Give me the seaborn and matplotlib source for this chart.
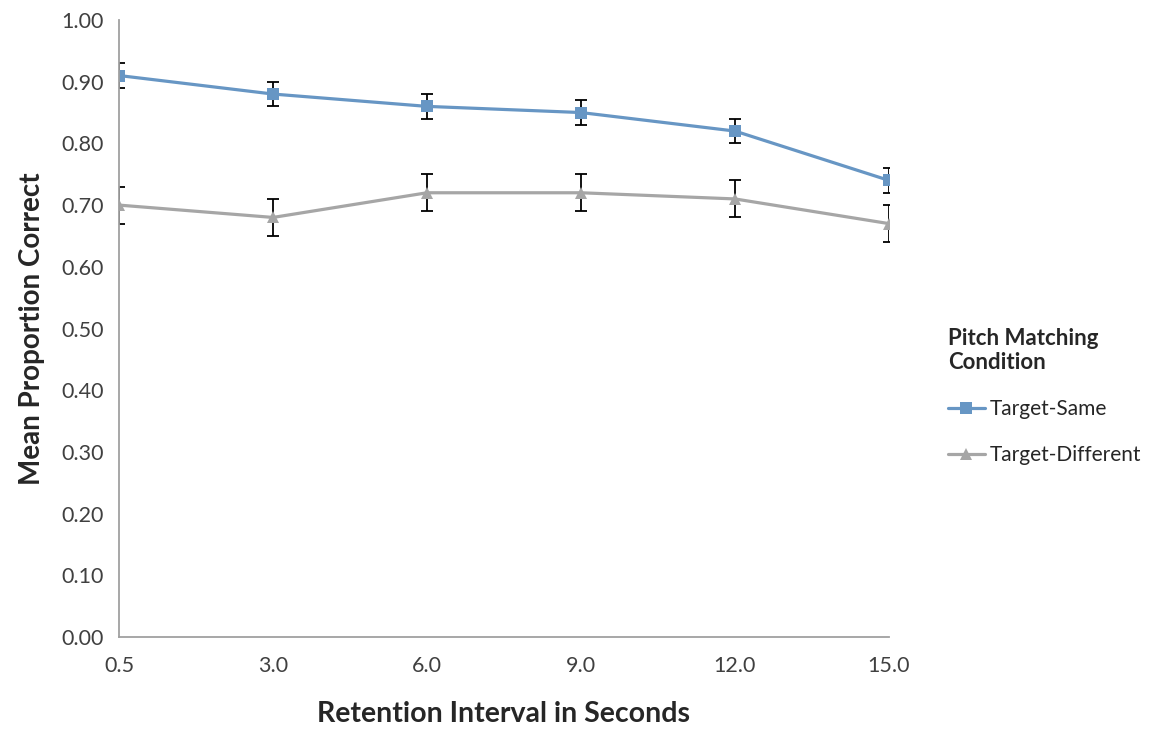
import numpy as np
import pandas as pd
import matplotlib
matplotlib.use("Agg")
import matplotlib.pyplot as plt
import seaborn as sns

intervals = ["0.5", "3.0", "6.0", "9.0", "12.0", "15.0"]
same_mean = [0.91, 0.88, 0.86, 0.85, 0.82, 0.74]
same_err = [0.02, 0.02, 0.02, 0.02, 0.02, 0.02]
diff_mean = [0.70, 0.68, 0.72, 0.72, 0.71, 0.67]
diff_err = [0.03, 0.03, 0.03, 0.03, 0.03, 0.03]

df = pd.DataFrame({
    "interval": intervals * 2,
    "mean": same_mean + diff_mean,
    "condition": ["Target-Same"] * 6 + ["Target-Different"] * 6,
})

sns.set_style("white")
plt.rcParams["font.family"] = ["Lato", "DejaVu Sans"]

fig = plt.figure(figsize=(11.59, 7.30), dpi=100)
ax = fig.add_axes([0.1027, 0.1274, 0.6643, 0.8452])

colors = {"Target-Same": "#6796c4", "Target-Different": "#a6a6a6"}
markers = {"Target-Same": "s", "Target-Different": "^"}

# error bars first so lines sit on top
pos = np.arange(len(intervals))
ax.errorbar(pos, same_mean, yerr=same_err, fmt="none", ecolor="black",
            elinewidth=1.3, capsize=4.5, capthick=1.3, zorder=1)
ax.errorbar(pos, diff_mean, yerr=diff_err, fmt="none", ecolor="black",
            elinewidth=1.3, capsize=4.5, capthick=1.3, zorder=1)

sns.lineplot(data=df, x="interval", y="mean", hue="condition", style="condition",
             palette=colors, markers=markers, dashes=False, linewidth=2.3,
             markersize=8, markeredgewidth=0, ax=ax, zorder=2, sort=False)

ax.set_xlim(0, len(intervals) - 1)
ax.set_ylim(0, 1.0)
ax.set_yticks(np.arange(0, 1.01, 0.1))
ax.set_yticklabels([f"{v:.2f}" for v in np.arange(0, 1.01, 0.1)])
ax.tick_params(axis="both", labelsize=15.5, colors="#404040", length=0)
ax.tick_params(axis="x", pad=14)
ax.tick_params(axis="y", pad=11)

for s in ["top", "right"]:
    ax.spines[s].set_visible(False)
for s in ["left", "bottom"]:
    ax.spines[s].set_color("#a0a0a0")
    ax.spines[s].set_linewidth(1.3)

ax.set_xlabel("Retention Interval in Seconds", fontsize=20.5, fontweight="bold", labelpad=18)
ax.set_ylabel("Mean Proportion Correct", fontsize=20, fontweight="bold", labelpad=12)

leg = ax.legend(title="Pitch Matching\nCondition", loc="center left",
                bbox_to_anchor=(1.052, 0.39), frameon=False, fontsize=15,
                handlelength=1.8, handletextpad=0.2, labelspacing=1.25,
                alignment="left")
leg.get_title().set_fontsize(16)
leg.get_title().set_fontweight("bold")

fig.savefig("out.png", dpi=100)
